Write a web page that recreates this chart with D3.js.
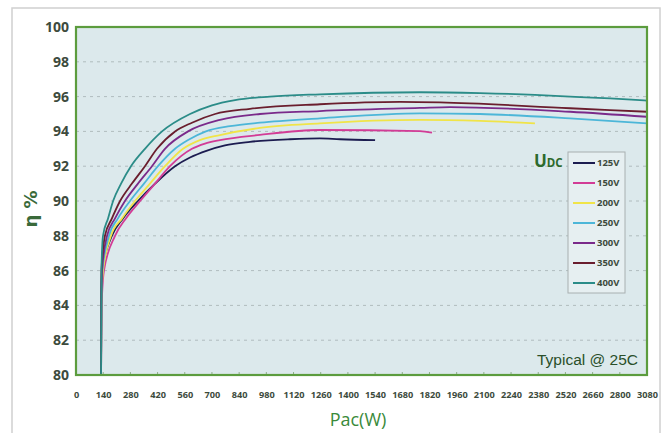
<!DOCTYPE html>
<html>
<head>
<meta charset="utf-8">
<script src="https://cdn.jsdelivr.net/npm/d3@7"></script>
<style>
  body { margin: 0; background: #fff; }
  svg { display: block; }
</style>
</head>
<body>
<div id="chart"></div>
<script>
// 效率曲線數據 [Pac(W), η%]
const u125 = [[129,80],[131,84],[134,86],[185,88],[242,89],[319,90],[407,91],[510,92],[587,92.5],[675,92.9],[767,93.2],[896,93.4],[1102,93.55],[1256,93.6],[1359,93.55],[1540,93.5]];
const u150 = [[129,80],[132,84],[144,86],[201,88],[257,89],[330,90],[407,91],[484,92],[597,93],[664,93.3],[741,93.5],[947,93.8],[1256,94.08],[1771,94.02],[1833,93.93]];
const u200 = [[129,80],[131,84],[139,86],[180,88],[237,89],[304,90],[381,91],[458,92],[551,93],[638,93.5],[741,93.79],[947,94.2],[1256,94.46],[1771,94.66],[2080,94.6],[2363,94.46]];
const u250 = [[129,80],[131,84],[136,86],[170,88],[216,89],[278,90],[350,91],[422,92],[510,93],[577,93.5],[669,94],[793,94.3],[947,94.5],[1256,94.75],[1771,95.04],[2080,95.0],[2544,94.75],[3080,94.46]];
const u300 = [[129,80],[130,84],[134,86],[160,88],[201,89],[252,90],[319,91],[391,92],[458,93],[577,94],[741,94.66],[947,95.0],[1256,95.17],[1771,95.35],[1926,95.4],[2544,95.13],[3080,94.84]];
const u350 = [[129,80],[130,84],[131,86],[149,88],[185,89],[227,90],[288,91],[355,92],[417,93],[510,94],[597,94.5],[716,95],[896,95.3],[1256,95.56],[1668,95.7],[1874,95.67],[2544,95.33],[3080,95.13]];
const u400 = [[129,80],[130,84],[131,86],[139,88],[165,89],[191,90],[232,91],[283,92],[355,93],[443,94],[587,95],[700,95.5],[819,95.8],[999,96],[1256,96.13],[1771,96.25],[2080,96.2],[2363,96.1],[2544,96.0],[2750,95.9],[3080,95.77]];

const seriesNames = ["125V", "150V", "200V", "250V", "300V", "350V", "400V"];
const seriesData = [u125, u150, u200, u250, u300, u350, u400];
const seriesColors = ["#1c1c50", "#d23c96", "#f0e448", "#4cb6d8", "#7a2a8a", "#6a1e2e", "#2b8c88"];

// x 軸刻度：0~2800 每 140 一格，最後一格標 3080
const xTicks = d3.range(0, 2801, 140).concat([3080]);
const yTicks = d3.range(80, 101, 2);

const width = 670, height = 433;
const plot = { left: 76, right: 647, top: 27, bottom: 375 };
const step = (plot.right - plot.left) / 21;

const svg = d3.select("#chart").append("svg")
    .attr("width", width)
    .attr("height", height);

// 外框
svg.append("rect")
    .attr("x", 12).attr("y", 8)
    .attr("width", 648).attr("height", 440)
    .attr("fill", "#fff")
    .attr("stroke", "#d0d0d0")
    .attr("stroke-width", 1.5);

const x = d3.scaleLinear()
    .domain([0, 2800, 3080])
    .range([plot.left, plot.left + 20 * step, plot.right]);
const y = d3.scaleLinear().domain([80, 100]).range([plot.bottom, plot.top]);

// 繪圖區背景
svg.append("rect")
    .attr("x", plot.left).attr("y", plot.top)
    .attr("width", plot.right - plot.left)
    .attr("height", plot.bottom - plot.top)
    .attr("fill", "#dce9ec");

// 虛線格線
svg.append("g")
    .selectAll("line")
    .data(yTicks.filter(d => d > 80 && d < 100))
    .enter()
    .append("line")
    .attr("x1", plot.left).attr("x2", plot.right)
    .attr("y1", d => y(d)).attr("y2", d => y(d))
    .attr("stroke", "#b0bcbe")
    .attr("stroke-width", 1)
    .attr("stroke-dasharray", "3,4");

// 底部小刻度
svg.append("g")
    .selectAll("line")
    .data(xTicks.slice(1, -1))
    .enter()
    .append("line")
    .attr("x1", d => x(d)).attr("x2", d => x(d))
    .attr("y1", plot.bottom).attr("y2", plot.bottom - 3)
    .attr("stroke", "#8fae8a")
    .attr("stroke-width", 1);

svg.append("clipPath").attr("id", "clip")
    .append("rect")
    .attr("x", plot.left).attr("y", plot.top)
    .attr("width", plot.right - plot.left)
    .attr("height", plot.bottom - plot.top);

const line = d3.line()
    .x(d => x(d[0]))
    .y(d => y(d[1]))
    .curve(d3.curveMonotoneX);

// 畫曲線
svg.append("g")
    .attr("clip-path", "url(#clip)")
    .selectAll("path")
    .data(seriesData)
    .enter()
    .append("path")
    .attr("d", d => line(d))
    .attr("fill", "none")
    .attr("stroke", (d, i) => seriesColors[i])
    .attr("stroke-width", 1.8);

// 綠色邊框
svg.append("rect")
    .attr("x", plot.left).attr("y", plot.top)
    .attr("width", plot.right - plot.left)
    .attr("height", plot.bottom - plot.top)
    .attr("fill", "none")
    .attr("stroke", "#5c9c3e")
    .attr("stroke-width", 2.2);

// 座標軸
const yAxis = svg.append("g")
    .attr("transform", `translate(${plot.left},0)`)
    .call(d3.axisLeft(y).tickValues(yTicks).tickSize(0).tickPadding(7));
yAxis.select(".domain").remove();
yAxis.selectAll("text")
    .attr("font-family", "Open Sans")
    .attr("font-weight", "bold")
    .attr("font-size", 14)
    .attr("fill", "#3d4b3d");

const xAxis = svg.append("g")
    .attr("transform", `translate(0,${plot.bottom})`)
    .call(d3.axisBottom(x).tickValues(xTicks).tickFormat(d3.format("d")).tickSize(0).tickPadding(16));
xAxis.select(".domain").remove();
xAxis.selectAll("text")
    .attr("font-family", "Open Sans")
    .attr("font-weight", "bold")
    .attr("font-size", 9.2)
    .attr("fill", "#3d4b3d");

// 軸標題
svg.append("text")
    .attr("x", 358).attr("y", 426)
    .attr("text-anchor", "middle")
    .attr("font-family", "Open Sans")
    .attr("font-size", 18)
    .attr("fill", "#3a8a3a")
    .text("Pac(W)");

svg.append("text")
    .attr("transform", "translate(37,209) rotate(-90)")
    .attr("text-anchor", "middle")
    .attr("font-family", "DejaVu Sans")
    .attr("font-weight", "bold")
    .attr("font-size", 18)
    .attr("fill", "#3a6a3a")
    .text("η %");

svg.append("text")
    .attr("x", 638).attr("y", 365)
    .attr("text-anchor", "end")
    .attr("font-family", "Liberation Sans")
    .attr("font-size", 15.5)
    .attr("fill", "#2a4f2a")
    .text("Typical @ 25C");

// 圖例
const legend = svg.append("g");
legend.append("rect")
    .attr("x", 568).attr("y", 152)
    .attr("width", 57).attr("height", 141)
    .attr("fill", "#e6eff1")
    .attr("stroke", "#a8b0b0")
    .attr("stroke-width", 1);

const udc = legend.append("text")
    .attr("x", 534).attr("y", 167)
    .attr("font-family", "Open Sans")
    .attr("font-weight", "bold")
    .attr("fill", "#2d6a2d");
udc.append("tspan").attr("font-size", 17).text("U");
udc.append("tspan").attr("font-size", 11.5).text("DC");

const item = legend.selectAll(".item")
    .data(seriesNames)
    .enter()
    .append("g")
    .attr("class", "item")
    .attr("transform", (d, i) => `translate(0,${163 + i * 20})`);

item.append("line")
    .attr("x1", 573).attr("x2", 595)
    .attr("stroke", (d, i) => seriesColors[i])
    .attr("stroke-width", 2);

item.append("text")
    .attr("x", 597).attr("dy", "0.35em")
    .attr("font-family", "Open Sans")
    .attr("font-weight", "bold")
    .attr("font-size", 9.5)
    .attr("fill", "#3d4b3d")
    .text(d => d);
</script>
</body>
</html>
